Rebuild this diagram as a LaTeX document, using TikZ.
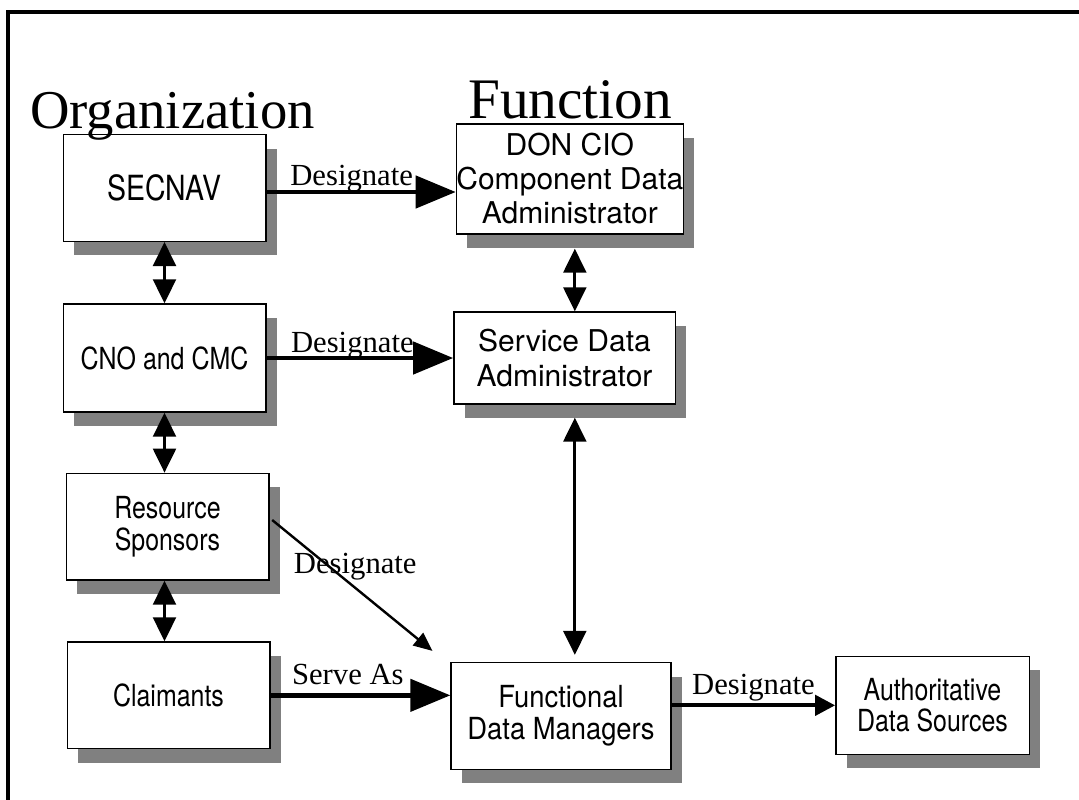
\documentclass[tikz,border=0pt]{standalone}
\usepackage{fontspec}
\setmainfont{Liberation Serif}
\newfontfamily\boxfont{TeX Gyre Heros}[FakeStretch=0.82]
\newfontfamily\midfont{TeX Gyre Heros}[FakeStretch=0.9]
\newfontfamily\widefont{TeX Gyre Heros}
\usepackage{tikz}
\usetikzlibrary{shapes,arrows.meta,shadows}
\tikzstyle{block} = [draw, rectangle, line width=1pt, fill=white, align=center, inner sep=0pt, minimum width=152pt, minimum height=80pt, drop shadow={shadow xshift=8.25pt, shadow yshift=-10.5pt, opacity=1, fill=black!50}, font=\boxfont\fontsize{22.8pt}{23.5pt}\selectfont]
\tikzstyle{heading} = [anchor=base west, inner sep=0pt]
\tikzstyle{lbl} = [anchor=base, inner sep=0pt, font=\fontsize{23pt}{23pt}\selectfont]
\tikzstyle{bigarrow} = [line width=3.4pt, -{Triangle[length=30pt,width=24pt]}]
\tikzstyle{medarrow} = [line width=3.2pt, -{Triangle[length=15pt,width=15pt]}]
\tikzstyle{dblarrow} = [line width=2.4pt, {Triangle[length=18pt,width=17pt]}-{Triangle[length=18pt,width=17pt]}]
\tikzstyle{thinarrow} = [line width=1.8pt, -{Triangle[length=14pt,width=12pt]}]
\begin{document}
\begin{tikzpicture}[x=0.75pt, y=-0.75pt]
	  \useasboundingbox (0,0) rectangle (1079,800);
	  \draw [line width=3pt] (8,800) -- (8,12) -- (1079,12);
	
	  % organization column
	  \node [block, font=\boxfont\fontsize{26pt}{27pt}\selectfont] (secnav) at (164.5,188) {SECNAV};
	  \node [block, below of=secnav, node distance=127.5pt, minimum height=81pt] (cno) {CNO and CMC};
	  \node [block, below of=cno, node distance=126.5pt, xshift=2.25pt] (sponsors) {Resource\\Sponsors};
	  \node [block, below of=sponsors, node distance=126.5pt, xshift=0.75pt] (claimants) {Claimants};
	
	  % function column
	  \node [block, right of=secnav, node distance=304pt, yshift=6.75pt, minimum width=166.5pt, minimum height=82.5pt,
	         font=\widefont\fontsize{22.5pt}{25.5pt}\selectfont] (cdadmin) {DON CIO\\Component Data\\Administrator};
	  \node [block, right of=cno, node distance=300pt, minimum width=166pt, minimum height=69pt,
	         font=\widefont\fontsize{22.5pt}{26pt}\selectfont] (sdadmin) {Service Data\\Administrator};
	  \node [block, right of=claimants, node distance=294.4pt, yshift=-15.4pt, minimum width=165pt,
	         font=\midfont\fontsize{22.8pt}{23.5pt}\selectfont] (fdm) {Functional\\Data Managers};
	  \node [block, right of=fdm, node distance=278.6pt, yshift=7.9pt, minimum width=145pt, minimum height=73.5pt] (ads) {Authoritative\\Data Sources};
	
	  \node [heading, font=\fontsize{41pt}{41pt}\selectfont] (orgtitle) at (30,128) {Organization};
	  \node [heading, font=\fontsize{43pt}{43pt}\selectfont] (fntitle) at (468,118) {Function};
	
	  \coordinate (rcol) at ([xshift=3.75pt]cdadmin.south);
	  \coordinate (dsg) at ([xshift=-13.5pt, yshift=8.25pt]fdm.north west);
	
	  \draw [bigarrow] ([yshift=-3pt]secnav.east) -- node [lbl, pos=.45, yshift=5pt] {Designate} ([yshift=-3pt]secnav.east -| cdadmin.west);
	  \draw [bigarrow] (cno.east) -- node [lbl, pos=.46, yshift=4.5pt] {Designate} (cno.east -| sdadmin.west);
	  \draw [bigarrow] (claimants.east) -- node [lbl, pos=.43, yshift=8.25pt] {Serve As} (claimants.east -| fdm.west);
	  \draw [medarrow] (fdm.east |- ads.west) -- node [lbl, yshift=8.25pt] {Designate} (ads.west);
	  \draw [thinarrow] ([xshift=2pt, yshift=5pt]sponsors.east) -- node [lbl, xshift=2.25pt, yshift=8.6pt] {Designate} (dsg);
	
	  \draw [dblarrow] (secnav.south) -- (cno.north);
	  \draw [dblarrow] (cno.south) -- (cno.south |- sponsors.north);
	  \draw [dblarrow] (secnav.south |- sponsors.south) -- (secnav.south |- claimants.north);
	  \draw [dblarrow, shorten <=10.5pt] (rcol) -- (rcol |- sdadmin.north);
	  \draw [dblarrow, shorten <=9.75pt, shorten >=5.25pt] (rcol |- sdadmin.south) -- (rcol |- fdm.north);
	\end{tikzpicture}
\end{document}
